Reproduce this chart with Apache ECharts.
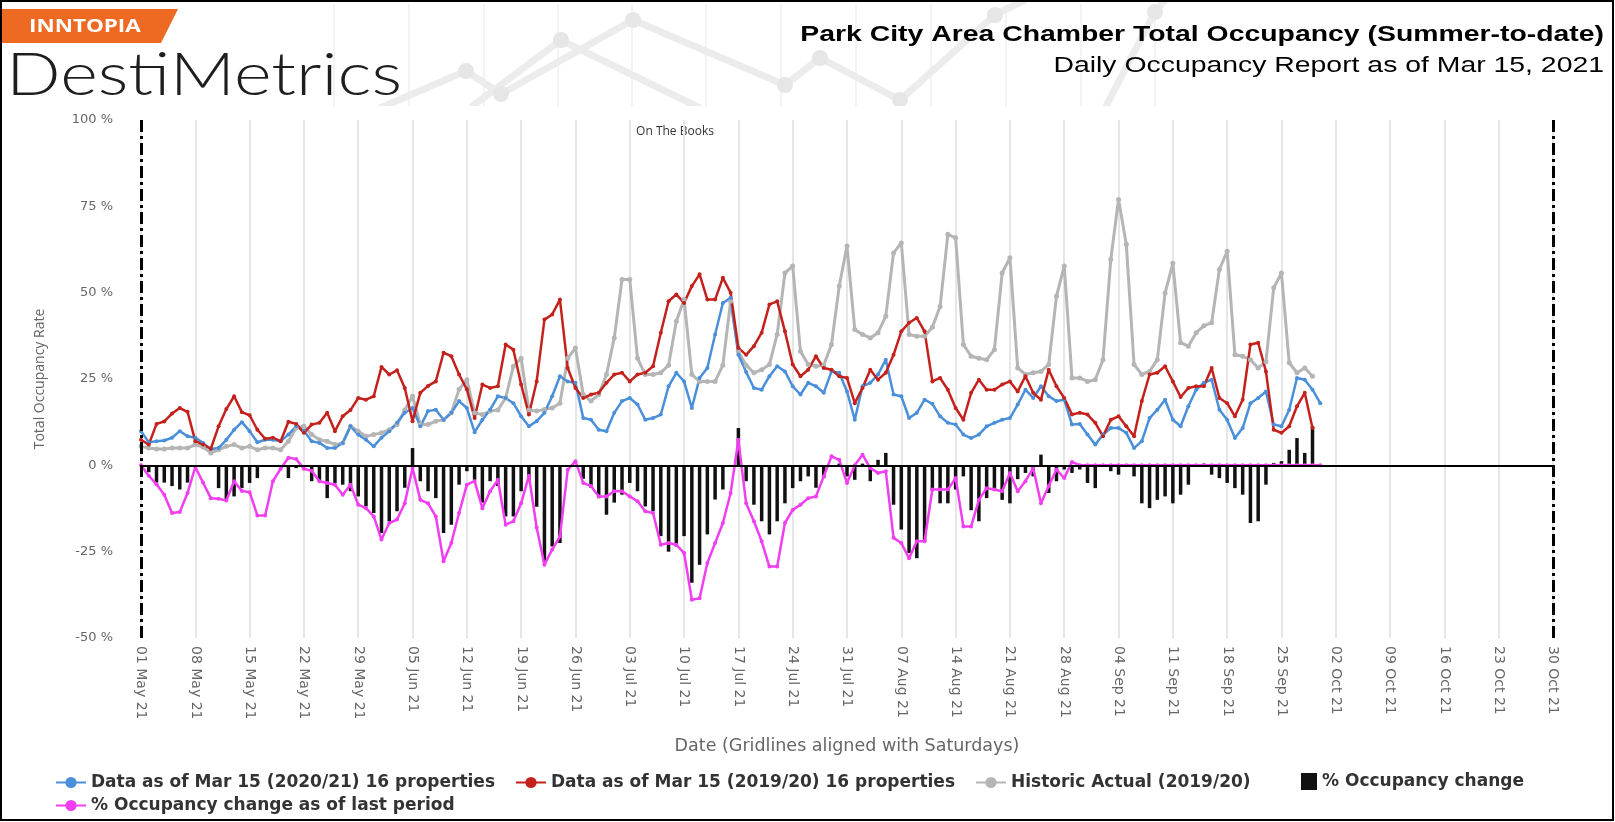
<!DOCTYPE html>
<html style="height: 100%">
<head>
    <meta charset="utf-8">
    <script type="text/javascript" src="https://cdn.jsdelivr.net/npm/echarts@6/dist/echarts.min.js"></script>
</head>
<body style="height: 100%; margin: 0; background: #fff">
<div id="container" style="width: 1615px; height: 822px"></div>
<script type="text/javascript">
    // axis: 01 May 21 .. 30 Oct 21, one category per day
    var monthNames = ['Jan','Feb','Mar','Apr','May','Jun','Jul','Aug','Sep','Oct','Nov','Dec'];
    var dayCount = 183;
    var dates = [];
    for (var i = 0; i < dayCount; i++) {
        var d = new Date(Date.UTC(2021, 4, 1 + i));
        var dd = d.getUTCDate();
        dates.push((dd < 10 ? '0' + dd : dd) + ' ' + monthNames[d.getUTCMonth()] + ' 21');
    }

    // Data as of Mar 15 (2020/21) 16 properties
    var otb2021 = [
        9.9, 6.7, 7, 7.2, 8, 9.9, 8.4, 8, 6.5, 4.7,
        5, 7.4, 10.3, 12.5, 9.9, 6.7, 7.4, 7.4, 7, 8.9,
        11.3, 10, 7, 6.5, 5, 5, 6.5, 11.3, 8.9, 7.4,
        5.5, 8, 9.9, 12.3, 15.2, 16.6, 11.3, 15.7, 16.1, 13.2,
        15.2, 18.6, 16.6, 9.6, 13.2, 16.1, 20, 19.5, 18, 14.2,
        11.3, 12.8, 15.2, 20, 25.8, 24.3, 23.9, 13.7, 13.2, 10.3,
        9.9, 15.2, 18.6, 19.5, 17.6, 13.2, 13.7, 14.7, 22.9, 26.8,
        24.3, 16.6, 25.3, 28.2, 37.9, 47, 48.5, 32, 27, 22.4,
        21.9, 25.8, 28.7, 27.2, 22.9, 20.5, 23.9, 22.9, 21, 27.2,
        26.8, 21.4, 13.2, 22.9, 23.9, 26.3, 30.6, 20.5, 20, 13.7,
        15.2, 19, 17.8, 14.2, 12.3, 11.8, 8.9, 7.9, 8.9, 11.3,
        12.3, 13.2, 13.7, 17.6, 21.9, 19.5, 22.9, 20, 18.6, 19,
        11.8, 12, 8.9, 6, 8.9, 10.8, 10.8, 9.4, 5, 7,
        13.7, 16.1, 19, 13.2, 11.3, 17.1, 21.9, 23.9, 24.8, 16.1,
        13.2, 7.9, 10.8, 18, 19.5, 21.4, 11.8, 11.3, 16.1, 25.3,
        24.8, 21.9, 18
    ];

    // Data as of Mar 15 (2019/20) 16 properties
    var otb1920 = [
        7.4, 6, 12, 12.7, 15, 16.6, 15.5, 7, 6, 4.8,
        11.3, 16.3, 20, 15.4, 14.5, 10.3, 7.7, 8, 7, 12.6,
        12, 9.4, 11.8, 12.3, 15.2, 9.9, 14.2, 16, 19.5, 19,
        20, 28.5, 26.3, 27.5, 22.4, 12.8, 21, 23, 24.3, 32.6,
        31.6, 26.3, 22, 13.7, 23.4, 22.4, 22.9, 35, 33.5, 23.4,
        14.7, 24.3, 42.2, 43.7, 48, 28.2, 22.4, 19.5, 20.5, 21,
        23.9, 26.3, 26.8, 24.3, 26.3, 26.8, 28.7, 38.4, 47.5, 49.5,
        47, 51.9, 55.3, 48, 48, 54.3, 50, 34, 32, 34.5,
        38.4, 46.6, 47.5, 38.8, 29.2, 25.8, 27.7, 31.6, 28.2, 27.7,
        25.8, 25.3, 18, 22.4, 27.7, 24.8, 26.8, 32, 38.8, 41.3,
        42.7, 38.8, 24.3, 25.3, 21.9, 16.6, 13.2, 21, 24.8, 21.9,
        21.9, 23.4, 24.3, 21.4, 25.8, 21, 19, 27.7, 22.9, 19.5,
        14.7, 15.2, 14.7, 12.3, 8.4, 13.2, 14.2, 11.3, 8.4, 18.6,
        26.3, 26.8, 28.7, 24.3, 19.8, 22.4, 22.9, 22.9, 28.2, 19.5,
        18, 14.2, 19, 35, 35.5, 27.2, 10.3, 9.4, 11.3, 17.1,
        21, 10.8
    ];

    // Historic Actual (2019/20)
    var historic = [
        5.5, 5, 4.7, 4.7, 5, 5, 5, 6, 5.3, 3.6,
        4.5, 5.5, 6, 5, 5.5, 4.5, 5, 5, 4.5, 7,
        10.8, 11.3, 8.9, 7.4, 7, 6, 6.5, 11.3, 9.9, 8.4,
        8.9, 9.4, 10.3, 11.8, 16, 20, 11.8, 11.8, 12.8, 13.2,
        15.2, 22, 24.8, 15.2, 14.7, 15.7, 16, 19.5, 28.7, 31,
        16, 15.7, 16.2, 16.6, 18, 31, 34, 20.5, 18.6, 20.5,
        26.3, 36.9, 53.8, 53.8, 31, 26.3, 26.3, 26.8, 29, 41.7,
        48, 26.3, 24.3, 24.3, 24.3, 29, 47.5, 33, 29, 26.8,
        27.7, 29.2, 37.9, 55.7, 57.7, 33, 29.2, 28.7, 29, 35,
        51.9, 63.5, 39.3, 37.9, 36.9, 38.4, 43.2, 61.5, 64.4, 37.9,
        37.4, 37.4, 40, 46, 66.9, 65.9, 35, 31.6, 31, 30.6,
        33.5, 55.7, 60.1, 28.2, 26.3, 26.8, 27.2, 29.2, 49, 57.7,
        25.3, 25.3, 24.3, 24.8, 30.6, 59.6, 77, 64, 29.2, 26.3,
        27.2, 30.6, 49.9, 58.5, 35.5, 34.5, 38.4, 40.4, 41.3, 56.7,
        62, 32, 31.6, 30.6, 28.2, 30, 51.4, 55.7, 29.7, 26.8,
        28.2, 25.8
    ];

    // % Occupancy change
    var occChange = [
        0, -2, -5, -5, -6, -7, -5, 0, 0, 0,
        -6.6, -10, -9, -6.6, -5.1, -3.7, 0, -0.5, 0, -3.7,
        -0.8, 0, -4.6, -4.6, -9.5, -5.1, -5.6, -7.5, -9, -11.9,
        -13.8, -19.6, -16.2, -13.3, -6.5, 5, -4.6, -7.5, -9.5, -19.6,
        -17.2, -5.6, -1.7, -4.2, -10.8, -4.6, -6, -14.8, -14.8, -7.5,
        -4.2, -12, -28, -23.5, -22.5, 0, 0, -3.9, -6.5, -9.5,
        -14.3, -10.8, -8.5, -5.1, -7.5, -11.9, -13.3, -20.5, -25, -23.5,
        -20.5, -34, -28.8, -20, -9.9, -7, 0, 10.8, -4.6, -11.4,
        -16.2, -20, -16.2, -11, -6.6, -4.6, -3.2, -6.5, -3.7, 0,
        0.5, -3.2, -4.2, 0.5, -4.6, 1.6, 3.6, -11.4, -18.6, -25.4,
        -26.9, -22, -7.5, -11, -11, -7, -3.2, -13, -16.2, -9.5,
        -7, -10, -11, -4, -2.2, -3.2, 3.1, -8, -4.6, -1.2,
        -2.2, -1.2, -5.1, -6.6, 0, -1.7, -2.7, 0, -3.2, -11,
        -12.4, -10, -9, -11, -8.5, -5.6, 0, 0.5, -2.7, -3.7,
        -5.1, -6.6, -8.5, -16.7, -16.2, -5.6, 0.7, 1.2, 4.5, 7.9,
        3.6, 11.3
    ];

    // % Occupancy change as of last period
    var lastPeriod = [
        0, -3, -5.5, -8.5, -13.8, -13.5, -8, -0.5, -5, -9.5,
        -9.7, -10.2, -4.6, -7.4, -7.8, -14.5, -14.5, -4.6, -1, 2.2,
        1.8, -1, -1.6, -4.6, -5.1, -5.6, -8.5, -5.6, -11.4, -12.4,
        -14.8, -21.5, -16.7, -15.7, -11, -0.8, -10, -11, -14.8, -27.8,
        -22.5, -13.8, -5.6, -4.6, -12.4, -7.5, -4.2, -17.2, -16.2, -11,
        -3, -18, -28.8, -24.4, -20.6, -1.3, 1.2, -5.1, -6, -9,
        -9, -7.5, -7.5, -9, -10.4, -13.3, -13.8, -23, -22.5, -23,
        -25.4, -38.9, -38.5, -28.3, -22.5, -16.7, -8, 7.4, -11, -16.2,
        -22, -29.3, -29.3, -16.7, -12.9, -11.4, -9.5, -9, -3.2, 2.6,
        1.6, -5.1, 0, 3.1, -0.8, -2.2, -1.7, -21, -22.5, -26.9,
        -22, -22, -7, -7, -7, -3.7, -17.7, -17.7, -10, -6.6,
        -7, -7.5, -2.2, -7.5, -4.6, -0.8, -11, -6, -1.2, -3.7,
        1, 0, 0, 0, 0, 0, 0, 0, 0, 0,
        0, 0, 0, 0, 0, 0, 0, 0, 0, 0,
        0, 0, 0, 0, 0, 0, 0, 0, 0, 0,
        0, 0, 0
    ];

    var seriesNames = [
        'Data as of Mar 15 (2020/21) 16 properties',
        'Data as of Mar 15 (2019/20) 16 properties',
        'Historic Actual (2019/20)',
        '% Occupancy change',
        '% Occupancy change as of last period'
    ];

    var dom = document.getElementById('container');
    var myChart = echarts.init(dom, null, {renderer: 'canvas'});

    // faint decorative chart behind the header
    var wmLines = [
        [[380, 108], [466, 71], [501, 94], [633, 20], [785, 85], [820, 58], [900, 100], [995, 15], [1025, 0]],
        [[470, 108], [561, 40], [700, 108]],
        [[1105, 108], [1155, 12], [1165, 0]]
    ];
    var wmDots = [[466, 71], [501, 94], [561, 40], [633, 20], [785, 85], [820, 58], [900, 100], [995, 15], [1155, 12]];
    var wmGrid = [334, 409, 484, 558, 632, 706, 781, 856, 931, 1006, 1081, 1155];
    var graphics = [];
    wmGrid.forEach(function (x) {
        graphics.push({type: 'line', z: -10, shape: {x1: x, y1: 4, x2: x, y2: 106}, style: {stroke: '#efefef', lineWidth: 1.5}});
    });
    wmLines.forEach(function (pts) {
        graphics.push({type: 'polyline', z: -9, shape: {points: pts}, style: {stroke: '#ececec', lineWidth: 7, fill: null}});
    });
    wmDots.forEach(function (p) {
        graphics.push({type: 'circle', z: -8, shape: {cx: p[0], cy: p[1], r: 8}, style: {fill: '#e6e6e6'}});
    });
    graphics.push(
        {type: 'rect', z: -7, shape: {x: 0, y: 106, width: 1615, height: 20}, style: {fill: '#fff'}},
        {type: 'polygon', shape: {points: [[2, 9], [178, 9], [161, 43], [2, 43]]}, style: {fill: '#ee6a22'}},
        {type: 'text', x: 29, y: 27, scaleX: 1.32, style: {text: 'INNTOPIA', fill: '#fff', font: 'bold 17px "Open Sans"', textVerticalAlign: 'middle'}},
        {type: 'text', x: 6, y: 76, scaleX: 1.2, style: {text: 'DestiMetrics', fill: '#1e1e1e', font: '300 60px Lato', textVerticalAlign: 'middle'}},
        {type: 'text', x: 1604, y: 35, scaleX: 1.29, style: {text: 'Park City Area Chamber Total Occupancy (Summer-to-date)', fill: '#000', font: 'bold 22px "Liberation Sans"', textAlign: 'right', textVerticalAlign: 'middle'}},
        {type: 'text', x: 1604, y: 66, scaleX: 1.29, style: {text: 'Daily Occupancy Report as of Mar 15, 2021', fill: '#000', font: '22px "Liberation Sans"', textAlign: 'right', textVerticalAlign: 'middle'}},
        {type: 'text', x: 675, y: 132, style: {text: 'On The Books', fill: '#333', font: '12px "Open Sans"', textAlign: 'center', textVerticalAlign: 'middle'}},
        {type: 'rect', z: 100, shape: {x: 1, y: 1, width: 1612, height: 819}, style: {stroke: '#000', lineWidth: 2, fill: null}}
    );

    var dashDot = {color: '#000', width: 3, type: [12, 4, 3, 4]};
    var legendText = {fontFamily: 'DejaVu Sans', fontWeight: 'bold', fontSize: 17, color: '#333'};

    var option = {
        animation: false,
        backgroundColor: '#fff',
        graphic: graphics,
        legend: [{
            data: [seriesNames[0], seriesNames[1], seriesNames[2]],
            left: 50, top: 769,
            itemWidth: 30, itemHeight: 14, itemGap: 20,
            textStyle: legendText
        }, {
            data: [seriesNames[3]],
            left: 1296, top: 768,
            icon: 'rect', itemWidth: 16, itemHeight: 17,
            textStyle: legendText
        }, {
            data: [seriesNames[4]],
            left: 50, top: 792,
            itemWidth: 30, itemHeight: 14,
            textStyle: legendText
        }],
        grid: {left: 141, right: 62, top: 120, bottom: 184},
        xAxis: {
            type: 'category',
            data: dates,
            boundaryGap: false,
            axisLine: {lineStyle: {color: '#ccd6eb', width: 1}},
            axisTick: {show: false},
            axisLabel: {interval: 6, rotate: -90, color: '#666', fontSize: 14, fontFamily: 'DejaVu Sans', margin: 8},
            splitLine: {show: true, interval: 6, lineStyle: {color: '#e6e6e6', width: 2}},
            name: 'Date (Gridlines aligned with Saturdays)',
            nameLocation: 'middle',
            nameGap: 99,
            nameTextStyle: {color: '#666', fontSize: 17.5, fontFamily: 'DejaVu Sans'}
        },
        yAxis: {
            type: 'value',
            min: -50, max: 100, interval: 25,
            axisLine: {show: false},
            axisTick: {show: false},
            splitLine: {show: false},
            axisLabel: {formatter: function (v) { return v + ' %'; }, color: '#666', fontSize: 13, fontFamily: 'DejaVu Sans', margin: 28},
            name: 'Total Occupancy Rate',
            nameLocation: 'middle',
            nameGap: 94,
            nameTextStyle: {color: '#666', fontSize: 14, fontFamily: 'Open Sans'}
        },
        series: [{
            name: seriesNames[2],
            type: 'line',
            data: historic,
            color: '#b5b5b5',
            symbol: 'circle', symbolSize: 5,
            lineStyle: {width: 3}
        }, {
            name: seriesNames[3],
            type: 'bar',
            data: occChange,
            color: '#111',
            barWidth: 3.5,
            markLine: {
                silent: true,
                symbol: 'none',
                label: {show: false},
                data: [
                    {yAxis: 0, lineStyle: {color: '#000', width: 2, type: 'solid'}},
                    {xAxis: dates[0], lineStyle: dashDot},
                    {xAxis: dates[dayCount - 1], lineStyle: dashDot}
                ]
            }
        }, {
            name: seriesNames[0],
            type: 'line',
            data: otb2021,
            color: '#4a8fda',
            symbol: 'circle', symbolSize: 4,
            lineStyle: {width: 2.5}
        }, {
            name: seriesNames[1],
            type: 'line',
            data: otb1920,
            color: '#c4211c',
            symbol: 'circle', symbolSize: 4,
            lineStyle: {width: 2.5}
        }, {
            name: seriesNames[4],
            type: 'line',
            data: lastPeriod,
            color: '#f03ef0',
            symbol: 'circle', symbolSize: 4,
            lineStyle: {width: 2.5}
        }]
    };
    myChart.setOption(option);
</script>
</body>
</html>
